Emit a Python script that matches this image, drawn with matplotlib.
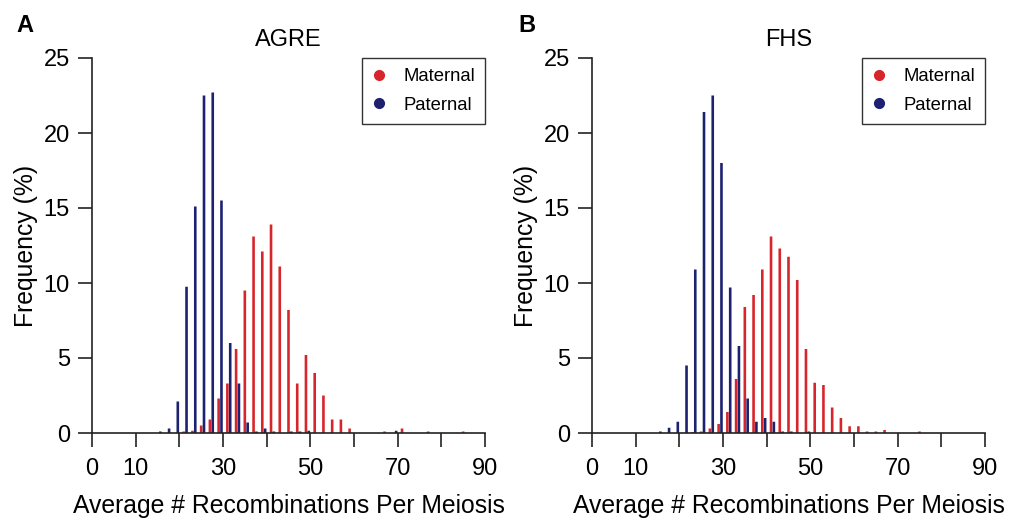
import matplotlib
matplotlib.use("Agg")
import matplotlib.pyplot as plt
from matplotlib.lines import Line2D
import numpy as np

plt.rcParams["font.family"] = ["Liberation Sans", "DejaVu Sans"]

# bin centres (average # recombinations), 2-unit bins
centers = list(range(15, 89, 2))

# AGRE, frequency (%) per bin
agre_maternal = [0, 0, 0, 0.1, 0.15, 0.5, 0.9, 2.3, 3.3, 5.6, 9.5, 13.1, 12.1, 13.9, 11.1,
                 8.2, 3.3, 5.2, 4.0, 2.5, 0.9, 0.9, 0.3, 0, 0, 0, 0.1, 0, 0.3, 0, 0, 0.1,
                 0, 0, 0, 0.1, 0]
agre_paternal = [0, 0.1, 0.3, 2.1, 9.75, 15.1, 22.5, 22.7, 15.5, 6.0, 3.3, 0.7, 0.1, 0.3,
                 0.1, 0, 0.1, 0.1, 0.15, 0, 0, 0, 0, 0, 0, 0, 0, 0, 0.15, 0, 0, 0, 0, 0, 0, 0, 0]

# FHS, frequency (%) per bin
fhs_maternal = [0, 0, 0, 0, 0.05, 0.1, 0.3, 0.6, 1.4, 3.6, 8.4, 9.2, 10.9, 13.1, 12.3,
                11.75, 10.2, 5.6, 3.35, 3.2, 1.7, 1.0, 0.45, 0.45, 0.1, 0.1, 0.2, 0, 0, 0,
                0.1, 0, 0, 0, 0, 0, 0]
fhs_paternal = [0, 0.1, 0.35, 0.75, 4.5, 10.9, 21.4, 22.5, 18.0, 9.7, 5.8, 2.3, 0.75, 1.0,
                0.75, 0.1, 0.1, 0, 0.1, 0, 0, 0, 0, 0, 0, 0, 0, 0, 0, 0, 0, 0, 0, 0, 0, 0, 0]

panels = [("A", "AGRE", agre_maternal, agre_paternal),
          ("B", "FHS", fhs_maternal, fhs_paternal)]

xticks = list(range(0, 100, 10))
xticklabels = ["0", "10", "", "30", "", "50", "", "70", "", "90"]
yticks = [0, 5, 10, 15, 20, 25]

RED = "#d7262b"
NAVY = "#1c2170"
AXIS = "#222222"

fig = plt.figure(figsize=(10.11, 5.20), dpi=100)

lefts = [92 / 1011, 592 / 1011]
letter_x = [16 / 1011, 518 / 1011]

for i, (letter, title, maternal, paternal) in enumerate(panels):
    ax = fig.add_axes([lefts[i], 87 / 520, 393 / 1011, 375 / 520])

    x = np.array(centers, dtype=float)
    red_bars = ax.bar(x, maternal, width=0.6, color=RED, linewidth=0)
    blue_bars = ax.bar(x - 1.35, paternal, width=0.6, color=NAVY, linewidth=0)
    # keep all bars the same apparent width
    for patch in list(red_bars) + list(blue_bars):
        patch.set_snap(False)

    ax.set_xlim(0, 90)
    ax.set_ylim(0, 25)
    ax.spines["top"].set_visible(False)
    ax.spines["right"].set_visible(False)
    for side in ("left", "bottom"):
        ax.spines[side].set_color(AXIS)
        ax.spines[side].set_linewidth(1.2)

    ax.set_xticks(xticks)
    ax.set_xticklabels(xticklabels)
    ax.set_yticks(yticks)
    ax.tick_params(direction="out", length=10, width=1.2, color=AXIS,
                   labelsize=17, pad=6)
    ax.tick_params(axis="x", pad=8)

    ax.set_xlabel("Average # Recombinations Per Meiosis", fontsize=17.8, labelpad=10)
    ax.set_ylabel("Frequency (%)", fontsize=17.8, labelpad=4)
    ax.set_title(title, fontsize=17, pad=9)

    handles = [
        Line2D([], [], linestyle="none", marker="o", markersize=7,
               markerfacecolor=RED, markeredgecolor=RED),
        Line2D([], [], linestyle="none", marker="o", markersize=7,
               markerfacecolor=NAVY, markeredgecolor=NAVY),
    ]
    leg = ax.legend(handles, ["Maternal", "Paternal"], loc="upper right",
                    bbox_to_anchor=(1.0, 1.0), borderaxespad=0, fontsize=13.3,
                    frameon=True, fancybox=False, framealpha=1,
                    edgecolor="#333333", handlelength=0.8, handletextpad=0.9,
                    borderpad=0.55, labelspacing=0.62)
    leg.get_frame().set_linewidth(1.0)

    fig.text(letter_x[i], 1 - 25 / 520, letter, fontsize=17, fontweight="bold",
             ha="left", va="center")

fig.savefig("out.png", dpi=100)
